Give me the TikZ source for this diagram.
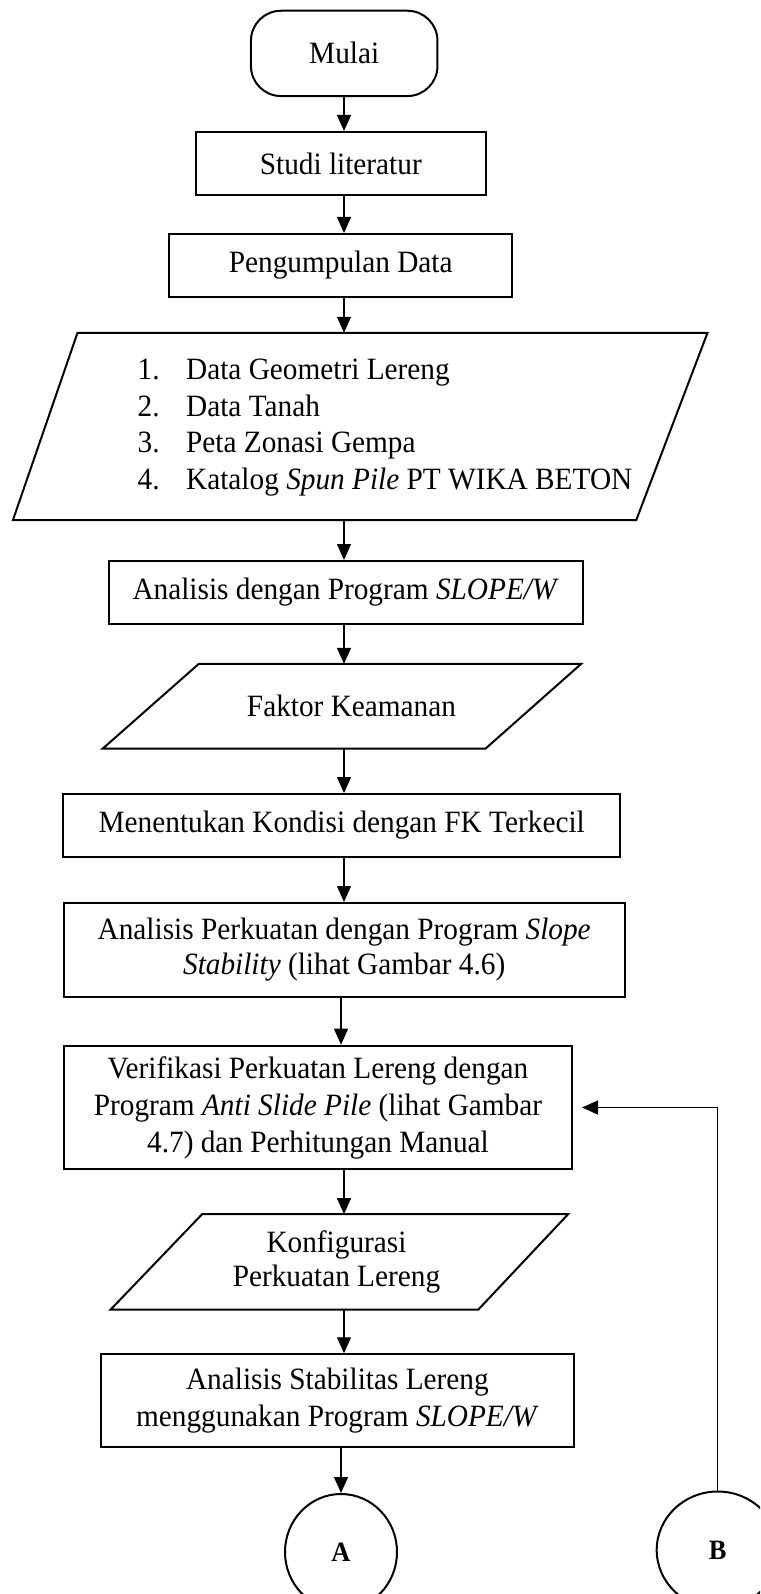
\documentclass[tikz,border=0pt]{standalone}
\usepackage{fontspec}
\setmainfont{Liberation Serif}[FakeStretch=0.945]
\usetikzlibrary{arrows.meta,shapes.geometric,calc}

\begin{document}
\begin{tikzpicture}[x=1pt,y=-1pt,
  every node/.style={font=\fontsize{31}{35}\selectfont, inner sep=0pt},
  procbox/.style={draw, line width=2pt, rectangle, align=center},
  terminal/.style={draw, line width=2pt, rectangle, rounded corners=30pt},
  frame/.style={rectangle},
  outline/.style={draw, line width=2pt, line join=miter},
  connector/.style={draw, ellipse, line width=2pt,
    font=\fontsize{28}{30}\selectfont\bfseries},
  arr/.style={-{Triangle[length=16pt,width=14pt]}, line width=1.2pt},
  feedline/.style={line width=1.2pt}
]
\path[use as bounding box, clip] (0,0) rectangle (760,1594);

\coordinate (spine) at (344,0);

% terminal and process boxes
\node[terminal, minimum width=186.5pt, minimum height=85.3pt] (mulai) at (344.2,53.4) {Mulai};
\node[procbox, minimum width=289.5pt, minimum height=63pt] (studi) at (340.8,163.5) {Studi literatur};
\node[procbox, minimum width=342.6pt, minimum height=63pt] (peng) at (340.7,265.5) {Pengumpulan Data};

% input data (parallelogram)
\node[frame, minimum width=694.2pt, minimum height=187pt] (data) at (360.2,426.5) {};
\draw[outline] ([xshift=64.6pt]data.north west) -- (data.north east)
  -- ([xshift=-71.3pt]data.south east) -- (data.south west) -- cycle;
\node[anchor=west, align=left, font=\fontsize{31}{36.7}\selectfont] (datatext) at (137.4,427.5)
  {\makebox[48.6pt][l]{1.}Data Geometri Lereng\\
   \makebox[48.6pt][l]{2.}Data Tanah\\
   \makebox[48.6pt][l]{3.}Peta Zonasi Gempa\\
   \makebox[48.6pt][l]{4.}Katalog \textit{Spun Pile} PT WIKA BETON};

\node[procbox, minimum width=473.8pt, minimum height=63pt] (anl) at (345.6,592.5)
  {Analisis dengan Program \textit{SLOPE/W}};

% safety factor output (parallelogram)
\node[frame, minimum width=478pt, minimum height=84.3pt] (fk) at (342,706.2) {};
\draw[outline] ([xshift=96pt]fk.north west) -- (fk.north east)
  -- ([xshift=-95.6pt]fk.south east) -- (fk.south west) -- cycle;
\node (fktext) at (351.5,706.2) {Faktor Keamanan};

\node[procbox, minimum width=557.4pt, minimum height=62.7pt] (kond) at (341.7,825.4)
  {Menentukan Kondisi dengan FK Terkecil};
\node[procbox, minimum width=561.2pt, minimum height=94pt] (perk) at (344.2,950)
  {Analisis Perkuatan dengan Program \textit{Slope}\\\textit{Stability} (lihat Gambar 4.6)};
\node[procbox, minimum width=508pt, minimum height=123.6pt, font=\fontsize{31}{37}\selectfont] (verif) at (318,1107.5)
  {Verifikasi Perkuatan Lereng dengan\\Program \textit{Anti Slide Pile} (lihat Gambar\\4.7) dan Perhitungan Manual};

% reinforcement configuration output (parallelogram)
\node[frame, minimum width=457.3pt, minimum height=95.2pt] (konf) at (339.35,1261.9) {};
\draw[outline] ([xshift=91.7pt]konf.north west) -- (konf.north east)
  -- ([xshift=-90pt]konf.south east) -- (konf.south west) -- cycle;
\node[align=center, font=\fontsize{31}{34}\selectfont] (konftext) at (336.5,1261.9) {Konfigurasi\\Perkuatan Lereng};

\node[procbox, minimum width=473.8pt, minimum height=92.2pt, font=\fontsize{31}{36.5}\selectfont] (stab) at (337.4,1400.4)
  {Analisis Stabilitas Lereng\\menggunakan Program \textit{SLOPE/W}};

% off-page connectors
\node[connector, minimum width=112pt, minimum height=116pt] (A) at (341,1552) {A};
\node[connector, minimum width=122pt, minimum height=117pt] (B) at (717.7,1550) {B};

% main flow
\draw[arr] (mulai.south -| spine) -- (studi.north -| spine);
\draw[arr] (studi.south -| spine) -- (peng.north -| spine);
\draw[arr] (peng.south -| spine) -- (data.north -| spine);
\draw[arr] (data.south -| spine) -- (anl.north -| spine);
\draw[arr] (anl.south -| spine) -- (fk.north -| spine);
\draw[arr] (fk.south -| spine) -- (kond.north -| spine);
\draw[arr] (kond.south -| spine) -- (perk.north -| spine);
\draw[arr] (perk.south -| A) -- (verif.north -| A);
\draw[arr] (verif.south -| spine) -- (konf.north -| spine);
\draw[arr] (konf.south -| spine) -- (stab.north -| spine);
\draw[arr] (stab.south -| A) -- (A.north);

% return from connector B
\draw[arr, shorten >=9pt] (B.north) |- (verif.east);
\end{tikzpicture}
\end{document}
